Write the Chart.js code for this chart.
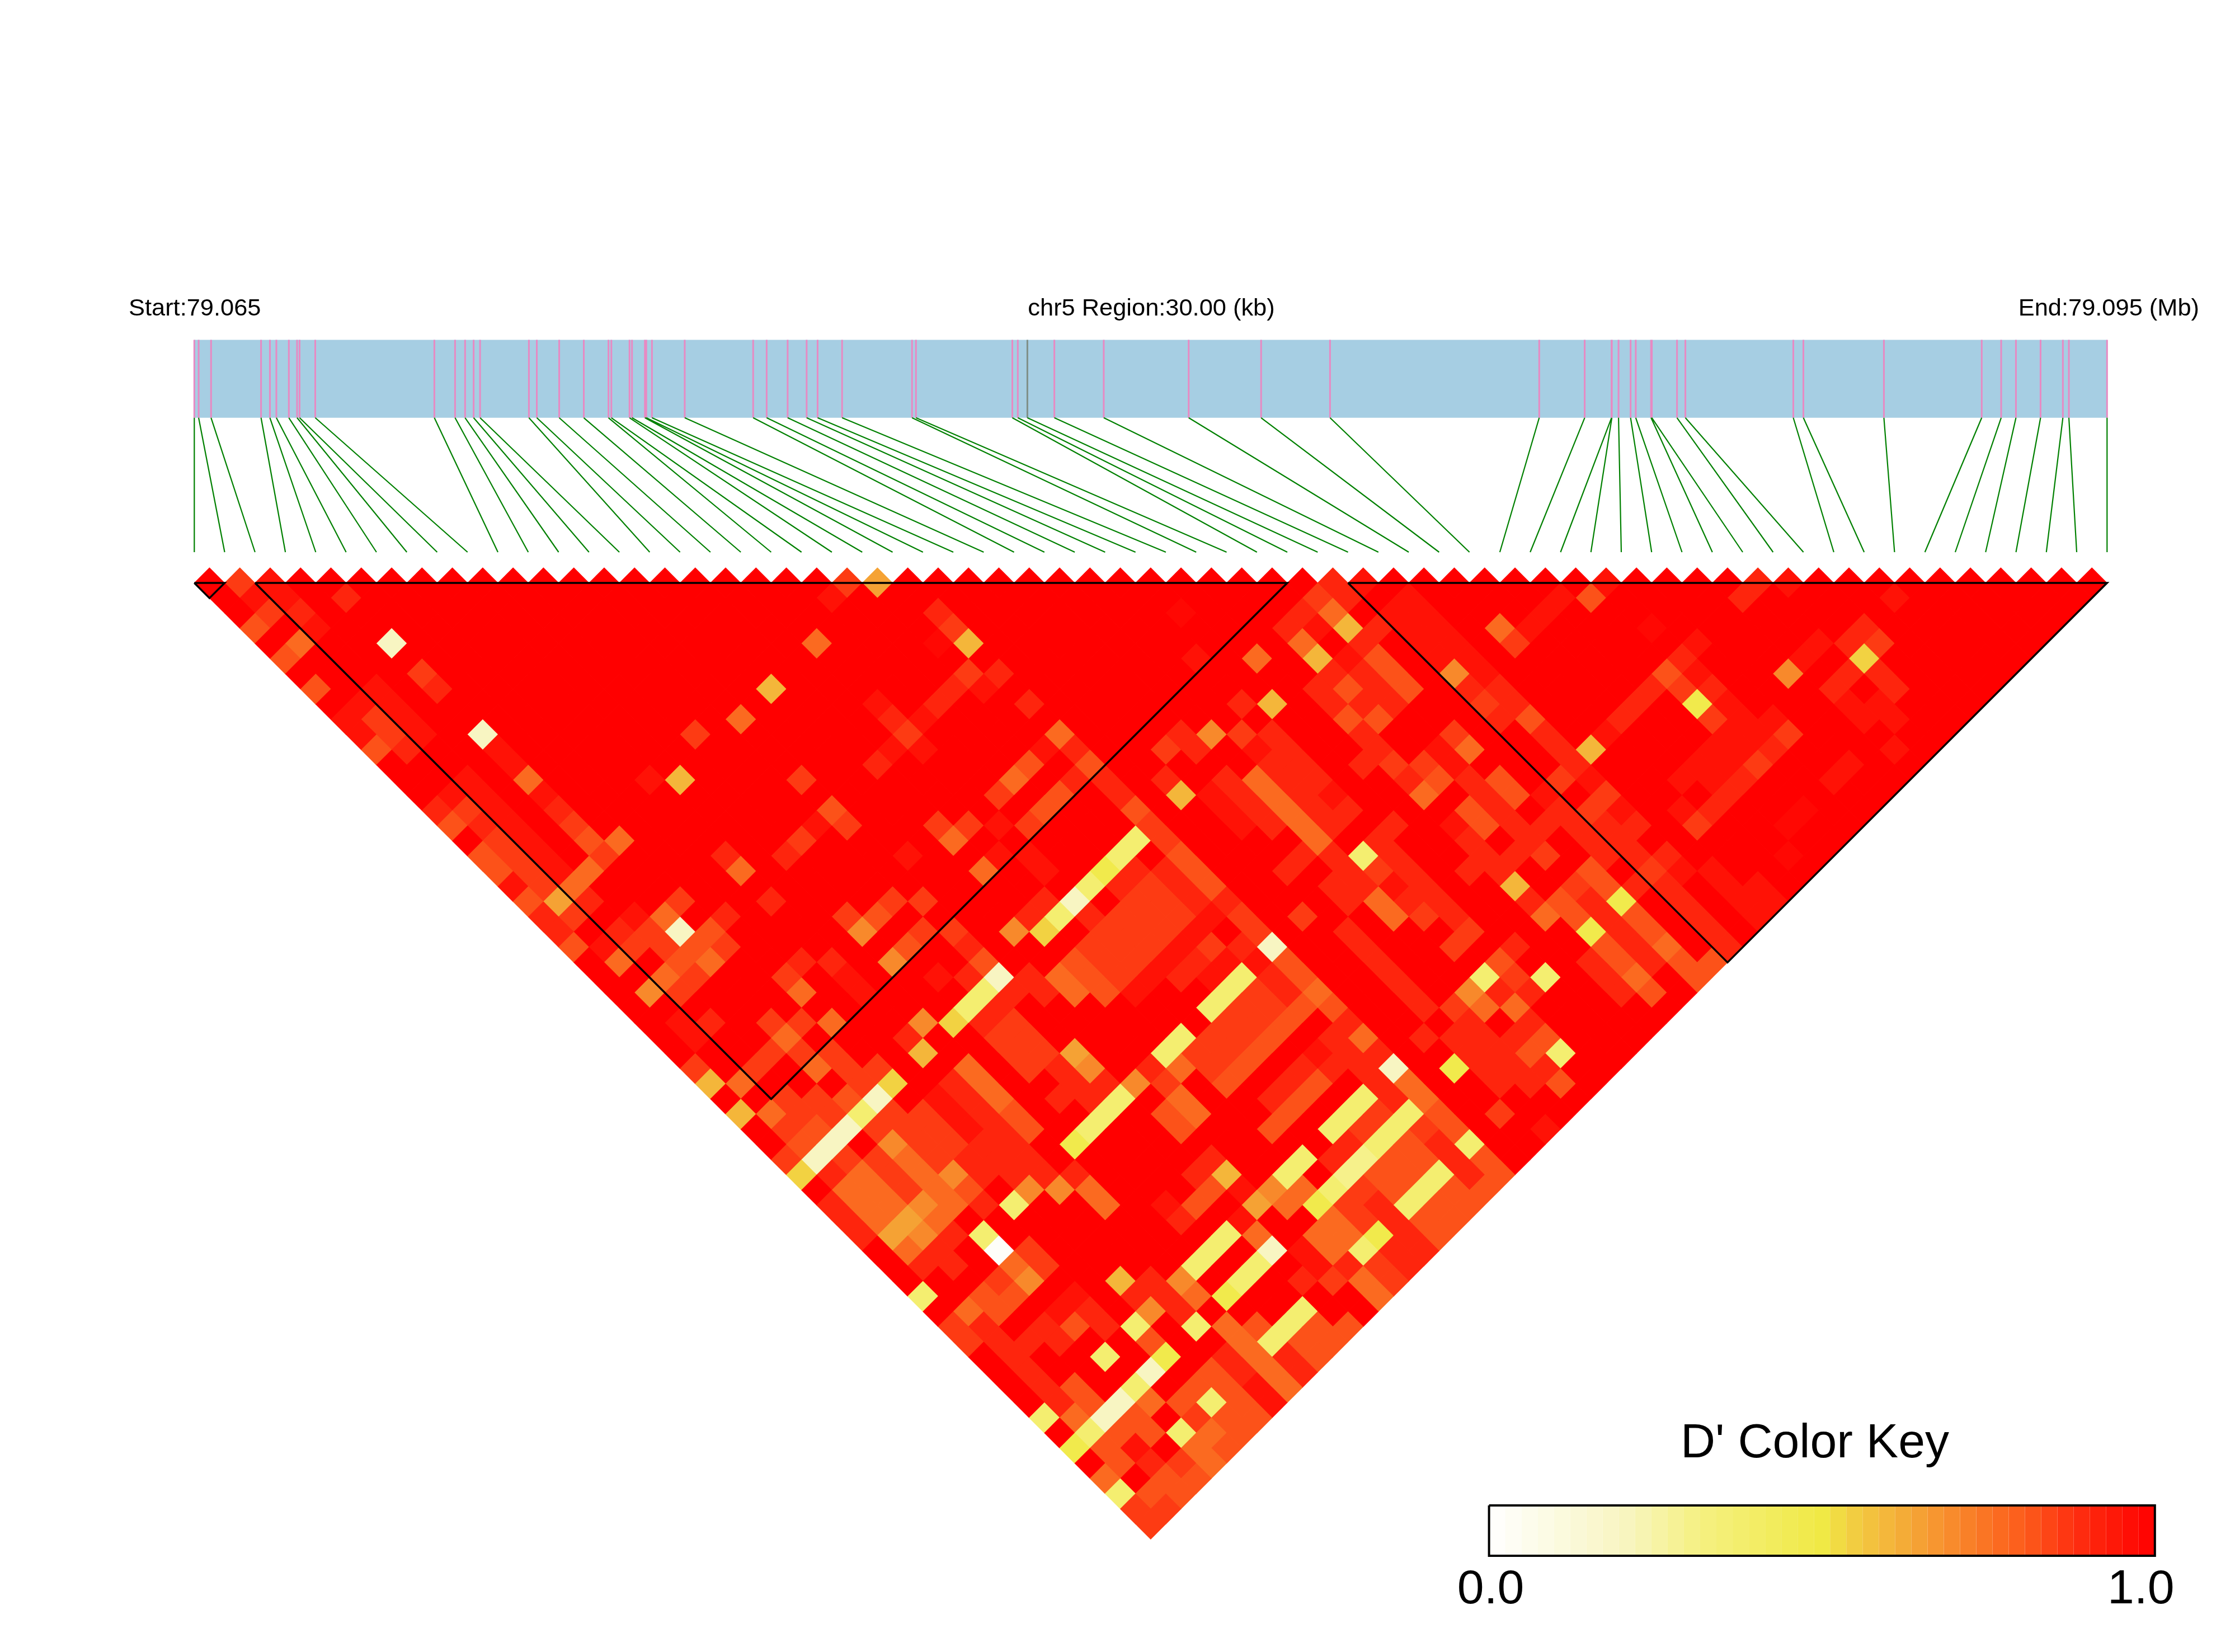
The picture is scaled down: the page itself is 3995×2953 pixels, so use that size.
<!DOCTYPE html>
<html><head><meta charset="utf-8">
<style>html,body{margin:0;padding:0;background:#fff}canvas{display:block}</style>
<script src="https://cdn.jsdelivr.net/npm/chart.js@4"></script>
</head><body>
<canvas id="c" width="3995" height="2953"></canvas>
<script>
// SNP positions along the region, in kb from the region start
const snpKb = [0,.068,.263,1.047,1.186,1.287,1.483,1.612,1.651,1.897,3.765,4.090,4.247,4.381,4.482,5.248,5.372,5.723,6.109,6.496,6.541,6.826,6.865,7.067,7.089,7.178,7.692,8.765,8.977,9.306,9.604,9.776,10.160,11.257,11.319,12.830,12.916,13.066,13.489,14.264,15.596,16.732,17.813,21.094,21.807,22.228,22.233,22.338,22.527,22.608,22.848,22.860,23.255,23.386,25.079,25.237,26.500,28.034,28.339,28.571,28.957,29.307,29.401,30];
const regionKb = 30;
const highlightedSnp = 37;
const labels = ["Start:79.065","chr5 Region:30.00 (kb)","End:79.095 (Mb)"];
const keyTitle = "D' Color Key";
const keyTicks = ["0.0","1.0"];
// LD blocks as [first half-column, last half-column] along the top row
const blocks = [[0,2],[4,72],[76,126]];
// D' levels
const levelCodes  = ["z","b","c","d","e","f","g","i","h","q","y","l","m","p","w"];
const levelValues = [.98,.955,.905,.86,.82,.77,.70,.645,.60,.54,.48,.37,.30,.20,.02];
// Row n of the triangle (n pairs apart): "<half-column><level>"; every cell not listed has D' = 1.0 ("a")
const dPrimeRows = [
"3d 5b 43d 45i 75c 77b 93b 103c 105b",
"4b 6b 10c 42b 74d 76c 80b 92e 90b 102c 112b",
"5d 7c 49c 65z 73c 75f 79b 81b 89b",
"4e 8b 50d 72c 74b 76h 78c 80b 82b 86f 88b 96z 110c",
"7f 13p 41f 49z 51h 73f 77c 81b 83b 87d 99b 107b 109c 111d",
"6e 66b 70f 74h 76b 78e 82b 84b 98c 106b 110q",
"15d 51d 53c 75c 77c 79e 83g 85b 97e 99b 105g 109c 111c",
"8e 12b 16c 38h 50c 52b 74c 76e 78c 80e 84c 86c 96c 98d 100c 108c 112c",
"11b 13b 45b 49c 55c 69c 71h 75c 77c 79c 85d 87c 95c 99y 101b 109b 111b",
"10b 12d 14b 36f 46c 48b 76e 78e 83c 86c 88e 94c 100d 102b 104b 110b 112b",
"11b 13d 15b 19p 33d 47d 57f 65c 67g 69d 71c 77c 82c 83d 89c 93b 101b 103b 105d",
"12e 14c 20b 46b 48b 56b 58c 64d 66c 70b 72c 78c 81c 82b 84f 90c 92h 100b 102b 104c 112b",
"21b 45c 55e 59e 71c 73c 77c 79d 81d 83b 91c 99b 101b 103d 109b",
"18b 22f 30b 32h 40d 54f 58c 60c 64c 68c 70f 72c 74c 80c 82e 84c 86e 90d 92b 98b 100b 102c 108b",
"17b 19b 23b 53d 57e 61c 65h 67b 69c 71f 73c 75b 81f 85c 87e 89b 93d 101c",
"16c 18d 20b 24c 42e 56e 62e 68b 70c 72f 74c 76c 84e 86c 90c 92d 94b 98b 100c 106z",
"17e 19c 21b 25d 41b 43d 49d 51d 53b 55d 63d 69b 71c 73f 75c 79c 83b 85e 87c 89c 91c 93c 95c 99d 105z",
"20d 22b 26e 28f 40d 50f 62l 64d 74f 78c 84c 88c 92c 94c",
"19e 21d 23b 27d 35c 39c 47b 53b 55b 61l 65e 73c 75c 77l 79c 85c 87c 89d 93c 95c 97c 105z",
"20e 22d 24b 26f 36f 52f 56b 60y 62c 64c 66e 72c 76c 78d 80c 84c 86c 92e 96d 98b 100b",
"21b 23d 25f 59l 61c 63d 65c 67e 75c 77c 79b 81c 87h 91d 93e 95c 97c 101b 103b",
"22e 24i 26c 32d 38c 46d 48d 56c 58p 62d 64d 66c 68c 76c 78f 80c 82c 88c 90e 92c 94y 98c 102b 104b",
"23c 25d 29b 31f 35c 43d 45e 55c 57l 59c 61d 63d 65d 67b 69d 73d 79f 81d 83c 89f 91e 93c 95e 99c 103b",
"24c 28c 30d 32p 34e 44g 48d 50d 54g 56q 60d 62d 64d 66b 70d 76c 84d 92y 94c 96e 100c",
"25e 27b 29d 31d 33e 35d 47e 51c 59d 61d 63d 65b 67d 69c 71p 77c 83d 87c 93e 95c 97f 101c",
"28f 32e 34f 40c 42c 46g 52e 58e 60d 62d 64b 66c 68b 70b 72e 78c 86e 92c 94e 96c 98e 100e",
"31f 33d 39d 43b 49b 51c 53p 55c 57f 59e 61d 63b 65c 67b 69l 71c 73e 79c 85l 87d 89l 93c 95f 99e",
"30g 32d 40f 44b 52l 54c 56c 58f 60e 62b 68l 70d 72c 74f 80c 84g 86c 88c 94c 96e",
"51l 53c 58f 67l 69d 71d 73e 75e 81c 83d 85f 87f",
"32b 34c 38d 40d 42f 48g 50q 52c 54d 68d 70d 72e 76c 84c 88c",
"33b 39f 47c 53d 55d 65l 67d 69d 71e 75c 77f 81c 83c 85c 87c 89e",
"38d 40d 42d 48h 54d 56d 58i 64l 66d 68d 70e 74b 76c 78c 84c 86c 88e 90l",
"33d 37d 41f 43d 45d 51f 55d 57c 59g 63c 65f 67d 69e 73c 75c 77c 79p 83y 85c 87c 89c",
"34h 36f 44d 46q 50c 52f 58c 60c 62g 64d 68e 72c 74e 78c 80f 86c 88c 90e",
"39d 41d 43e 45p 49b 51c 53f 57c 59c 61l 65f 71c 73e 77l 79c 81f",
"36h 38f 40d 42d 44l 46d 48d 50b 52c 54e 60l 64e 66f 72e 76l 78d 80l 82e 86d",
"39d 41e 43p 45d 47d 49d 51b 53c 55e 59l 65e 71e 75l 77d 79l 81d 83e 89b",
"40e 42p 46g 48d 50d 52c 54c 58y 61e 63c 76c 78l 80e 82c 84l",
"39d 41p 43d 45d 47f 49d 51c 53c 55c 62e 67c 73l 75c 77m 79e 81e 83c 85e",
"40q 42c 44f 46d 48f 50g 52c 54c 56c 58c 61e 63e 66c 68h 72l 76m 78e 80e 82l 84c 86e",
"43f 45f 47d 49f 51e 55g 57g 59f 67e 69b 71g 73f 75l 77d 79e 81l 83e 85e",
"42c 44f 46f 48g 50f 52c 54l 60f 64b 66e 70i 72f 74y 76d 78c 80l 82e 84e",
"43c 45f 47i 49f 65c 69b 75f 77d 79c 81e 83e",
"44c 46i 48g 50c 52l 68l 70f 74f 76f 78y 80c 82e",
"47f 49c 53w 55d 67l 71p 73b 75f 77l 79c 81c",
"48c 50c 54f 56d 66l 70l 74b 76c 78d 80c",
"53d 55g 61h 63c 65g 69l 73c 75d 77f 79d",
"48l 52e 54e 58b 62c 64c 66f 68y 78f",
"51f 53e 57b 59c 63g 65c 73l",
"50d 52c 56c 58e 60c 62l 66l 68f 70e 72l 74e 76e",
"51d 53c 55c 57c 63e 69f 71l 73e 75e",
"54c 60l 64y 68c 70f 72c 74e",
"55c 63p 67e 69c 71f 73c",
"56c 58e 62l 66e 68e 70b 72f",
"57c 59e 61p 63f 65e 67l 69e 71b",
"56l 58f 60p 62e 66d 68e 70e",
"59l 61e 63e 65l 67f 69e",
"58y 60e 62b 66f 68e",
"61e 63c 65d 67f",
"60f 64e 66e",
"61l 63e 65e",
"62d 64d",
"63d"
];
// Colour key stops [D', colour]
const rampStops = [[0,"#FFFFFF"],[.206,"#F8F5C0"],[.32,"#F5F080"],[.5,"#F0E945"],[.545,"#F2CF42"],[.645,"#F5A234"],[.73,"#FA7B26"],[.806,"#FC5A1B"],[.88,"#FE2F10"],[1,"#FF0000"]];
const keySteps = 41;

function hex(c){return [1,3,5].map(i=>parseInt(c.substr(i,2),16));}
function ramp(t){
  for(let k=1;k<rampStops.length;k++){
    if(t<=rampStops[k][0]){
      const [a,ca]=rampStops[k-1],[b,cb]=rampStops[k],f=(t-a)/(b-a),A=hex(ca),B=hex(cb);
      return `rgb(${A.map((x,i)=>Math.round(x+(B[i]-x)*f)).join(",")})`;
    }
  }
  return rampStops[rampStops.length-1][1];
}
// layout (canvas pixels)
const W=3995,H=2953,X0=347.3,Y0=1042,HALF=27.135;
const uScale=k=>k*(snpKb.length-1)*2/regionKb;
const yv=Y=>(Y-Y0)/HALF;
const KX0=2661.6,KX1=3851.8,KY0=2691,KY1=2781;

const cells=[],cellColors=[];
dPrimeRows.forEach((row,v)=>{
  const low={};
  row.split(" ").filter(Boolean).forEach(t=>{low[parseInt(t)]=levelValues[levelCodes.indexOf(t.replace(/[0-9]/g,""))];});
  for(let u=v+1;u<=2*(snpKb.length-1)-1-v;u+=2){
    const val=low[u]===undefined?1:low[u];
    cells.push({x:u,y:v});cellColors.push(ramp(val));
  }
});
const gap={x:null,y:null};
const pinkTicks=[],greyTicks=[],connectors=[];
snpKb.forEach((kb,k)=>{
  const u=uScale(kb);
  const target=k===highlightedSnp?greyTicks:pinkTicks;
  target.push({x:u,y:yv(607.5)},{x:u,y:yv(746.8)},gap);
  connectors.push({x:u,y:yv(746.8)},{x:k*2,y:yv(987)},gap);
});
const blockLines=[];
blocks.forEach(([a,b])=>{
  const mid=(a+b)/2,depth=(b-a)/2;
  blockLines.push({x:a,y:0},{x:b,y:0},{x:mid,y:depth},{x:a,y:0},gap);
});
const keyPts=[];for(let i=0;i<=keySteps;i++)keyPts.push({x:i/keySteps,y:yv((KY0+KY1)/2)});
const line=(o)=>Object.assign({type:"scatter",showLine:true,spanGaps:false,pointRadius:0,tension:0,fill:false,clip:false},o);

const textPlugin={id:"texts",afterDatasetsDraw(ch){
  const c=ch.ctx,xk=ch.scales.xKey;c.save();c.fillStyle="#000";c.textBaseline="alphabetic";
  c.font='43.4px "Liberation Sans"';
  c.textAlign="left";c.fillText(labels[0],230,564);
  c.textAlign="center";c.fillText(labels[1],2058,564);
  c.textAlign="right";c.fillText(labels[2],3931,564);
  c.textAlign="center";c.font='86px "Liberation Sans"';
  c.fillText(keyTitle,3244,2605);
  c.fillText(keyTicks[0],xk.getPixelForValue(0)+3,2866);
  c.fillText(keyTicks[1],xk.getPixelForValue(1)-25,2866);
  c.restore();
}};
new Chart(document.getElementById("c"),{
  type:"scatter",
  data:{datasets:[
    line({label:"LD blocks",data:blockLines,borderColor:"#000",borderWidth:3.5,borderJoinStyle:"miter"}),
    line({label:"key outline",xAxisID:"xKey",data:[{x:0,y:yv(KY0)},{x:1,y:yv(KY0)},{x:1,y:yv(KY1)},{x:0,y:yv(KY1)},{x:0,y:yv(KY0)}],borderColor:"#000",borderWidth:4,borderJoinStyle:"miter"}),
    line({label:"key",xAxisID:"xKey",data:keyPts,borderWidth:KY1-KY0,borderColor:"#f00",segment:{borderColor:c=>ramp((c.p0DataIndex+.5)/keySteps)}}),
    {label:"D'",data:cells,pointStyle:"rectRot",pointRadius:27.7,pointBackgroundColor:cellColors,pointBorderWidth:0,showLine:false,clip:false},
    line({label:"connectors",data:connectors,borderColor:"#008000",borderWidth:2.2}),
    line({label:"highlight",data:greyTicks,borderColor:"#7F8F88",borderWidth:3}),
    line({label:"ticks",data:pinkTicks,borderColor:"#E78AC3",borderWidth:3}),
    line({label:"region",data:[{x:0,y:yv(677.15)},{x:(snpKb.length-1)*2,y:yv(677.15)}],borderColor:"#A6CEE3",borderWidth:139.3})
  ]},
  options:{
    responsive:false,animation:false,events:[],
    layout:{padding:0,autoPadding:false},
    plugins:{legend:{display:false},tooltip:{enabled:false},title:{display:false}},
    scales:{
      x:{type:"linear",display:false,min:-X0/HALF,max:(W-X0)/HALF},
      xKey:{type:"linear",display:false,min:-KX0/(KX1-KX0),max:(W-KX0)/(KX1-KX0)},
      y:{type:"linear",display:false,reverse:true,min:yv(0),max:yv(H)}
    }
  },
  plugins:[textPlugin]
});
</script>
</body></html>
